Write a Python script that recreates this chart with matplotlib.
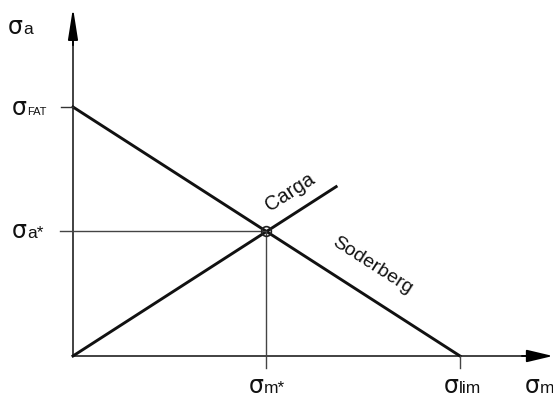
import matplotlib
matplotlib.use("Agg")
import matplotlib.pyplot as plt
from matplotlib.offsetbox import TextArea, HPacker, AnnotationBbox

plt.rcParams['font.family'] = ['Liberation Sans', 'DejaVu Sans']

# Soderberg diagram values (normalised)
sigma_fat = 1.0      # fatigue limit on the alternating axis
sigma_lim = 1.0      # limit on the mean axis
sigma_m_star = 0.5   # working point, mean stress
sigma_a_star = 0.5   # working point, alternating stress
carga_end = 0.68     # load line drawn up to here
x_axis_end = 1.24
y_axis_end = 1.398

fig = plt.figure(figsize=(5.53, 4.03), dpi=100)
ax = fig.add_axes([0, 0, 1, 1])
ax.set_xlim(-0.1886, 1.2403)
ax.set_ylim(-0.1888, 1.4297)
ax.axis('off')

# axes with arrowheads
ax.plot([0, x_axis_end - 0.05], [0, 0], color='#333333', lw=1.3)
ax.plot([0, 0], [0, y_axis_end - 0.08], color='#333333', lw=1.3)
ax.annotate('', xy=(x_axis_end, 0), xytext=(x_axis_end - 0.08, 0),
            annotation_clip=False,
            arrowprops=dict(arrowstyle='-|>,head_length=1.6,head_width=0.38',
                            color='black', lw=1.3, shrinkA=0, shrinkB=0))
ax.annotate('', xy=(0, y_axis_end), xytext=(0, y_axis_end - 0.15),
            annotation_clip=False,
            arrowprops=dict(arrowstyle='-|>,head_length=1.9,head_width=0.3',
                            color='black', lw=1.3, shrinkA=0, shrinkB=0))

# Soderberg line and load line
ax.plot([0, sigma_lim], [sigma_fat, 0], color='#111111', lw=2.1)
ax.plot([0, carga_end], [0, carga_end * sigma_a_star / sigma_m_star],
        color='#111111', lw=2.1)

# reference lines to the working point and ticks
ax.plot([-0.034, sigma_m_star], [sigma_a_star, sigma_a_star], color='#444444', lw=1.0)
ax.plot([sigma_m_star, sigma_m_star], [-0.048, sigma_a_star], color='#444444', lw=1.0)
ax.plot([-0.031, 0], [sigma_fat, sigma_fat], color='#333333', lw=1.0)
ax.plot([sigma_lim, sigma_lim], [-0.048, 0], color='#444444', lw=1.0)

ax.plot([sigma_m_star], [sigma_a_star], marker='o', ms=7, mfc='none',
        mec='#222222', mew=1.2)


def sigma_label(xy, dx, dy, sub, sub_size=12.5, align=(0.5, 0.5)):
    sig = TextArea('σ', textprops=dict(fontsize=17, family='DejaVu Sans',
                                       color='#111111'))
    rest = TextArea(sub, textprops=dict(fontsize=sub_size, color='#111111'))
    box = HPacker(children=[sig, rest], align='baseline', pad=0, sep=0)
    ab = AnnotationBbox(box, xy, xybox=(dx, dy), boxcoords='offset pixels',
                        frameon=False, box_alignment=align,
                        annotation_clip=False, pad=0)
    ax.add_artist(ab)


sigma_label((0, y_axis_end), -65, -19, 'a', align=(0, 0.5))
sigma_label((0, sigma_fat), -61, -1, 'FAT', sub_size=8, align=(0, 0.5))
sigma_label((0, sigma_a_star), -61, 0, 'a*', align=(0, 0.5))
sigma_label((sigma_m_star, 0), 0, -30, 'm*')
sigma_label((sigma_lim, 0), 2, -30, 'lim')
sigma_label((x_axis_end, 0), -28, -30, 'm', align=(0, 0.5))

ax.text(0.561, 0.659, 'Carga', rotation=32.7, rotation_mode='anchor',
        ha='center', va='center', fontsize=14.5, color='#111111')
ax.text(0.773, 0.361, 'Soderberg', rotation=-32.7, rotation_mode='anchor',
        ha='center', va='center', fontsize=14, color='#111111')

fig.savefig('out.png', dpi=100)
